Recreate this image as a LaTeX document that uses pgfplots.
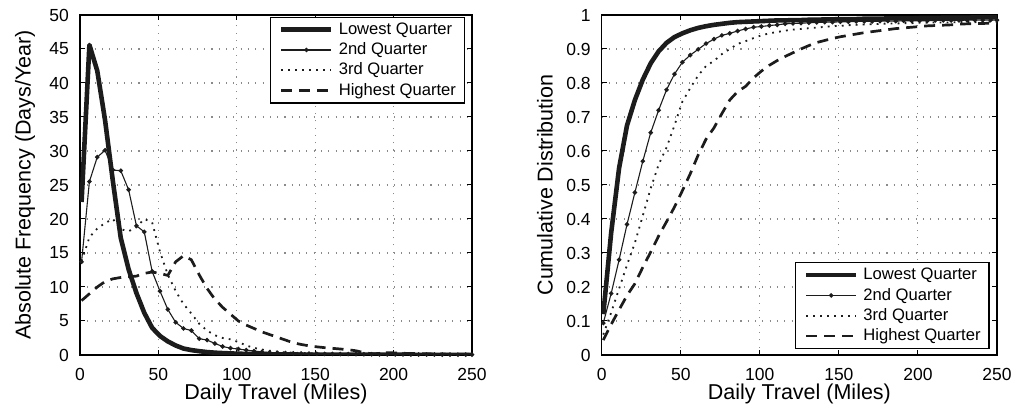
\documentclass[border=0pt]{standalone}
\usepackage{pgfplots}
\usepackage{pgfplotstable}
\usepackage{fontspec}
\setmainfont{Liberation Sans}
\pgfplotsset{compat=1.18}
\definecolor{ln}{HTML}{1C1C1C}
\definecolor{gr}{HTML}{8A8A8A}
\pgfplotstableread{
x L S T H LC SC TC HC
1 22.5 13.7 13.8 8.0 0.12 0.094 0.06 0.044
6 45.6 25.5 17.3 9.0 0.36 0.181 0.125 0.09
11 41.8 29.1 18.6 10.0 0.55 0.28 0.195 0.133
16 34.5 30.1 19.4 10.8 0.675 0.384 0.265 0.175
21 25.5 27.2 20.0 11.2 0.75 0.478 0.33 0.21
26 17.2 27.1 18.5 11.4 0.81 0.57 0.41 0.258
31 12.6 24.3 18.2 11.5 0.858 0.654 0.49 0.303
36 9.1 19.0 18.8 11.6 0.893 0.72 0.56 0.35
41 6.2 18.1 20.0 12.0 0.918 0.78 0.61 0.392
46 4.0 12.3 19.5 12.2 0.935 0.826 0.675 0.435
51 2.8 9.4 15.2 12.0 0.946 0.861 0.745 0.483
56 2.0 6.7 11.8 11.7 0.955 0.882 0.785 0.533
61 1.4 4.8 9.4 13.7 0.962 0.899 0.822 0.588
66 0.95 3.9 7.5 14.6 0.967 0.916 0.85 0.635
71 0.72 3.6 6.1 14.0 0.971 0.929 0.865 0.668
76 0.56 2.4 4.6 11.8 0.974 0.94 0.885 0.71
81 0.43 2.2 3.6 9.8 0.977 0.946 0.9 0.75
86 0.34 1.7 2.9 8.2 0.979 0.953 0.915 0.775
91 0.28 1.25 2.5 7.0 0.98 0.959 0.923 0.79
96 0.23 1.0 2.3 6.0 0.981 0.964 0.932 0.815
101 0.19 0.87 1.9 5.0 0.982 0.966 0.94 0.835
106 0.16 0.72 1.4 4.4 0.983 0.969 0.946 0.852
111 0.13 0.58 1.05 3.9 0.984 0.971 0.95 0.866
116 0.11 0.45 0.8 3.4 0.984 0.974 0.954 0.878
121 0.1 0.37 0.62 3.0 0.985 0.975 0.957 0.889
126 0.09 0.32 0.48 2.6 0.985 0.976 0.959 0.9
131 0.08 0.28 0.39 2.2 0.986 0.977 0.961 0.91
136 0.07 0.25 0.33 1.8 0.986 0.978 0.963 0.919
141 0.06 0.22 0.29 1.55 0.987 0.979 0.965 0.925
146 0.06 0.2 0.26 1.35 0.987 0.979 0.967 0.931
151 0.05 0.18 0.23 1.2 0.988 0.98 0.968 0.936
156 0.05 0.16 0.21 1.08 0.988 0.98 0.97 0.94
161 0.05 0.15 0.19 0.98 0.988 0.981 0.971 0.944
166 0.04 0.14 0.17 0.88 0.989 0.981 0.972 0.948
171 0.04 0.13 0.16 0.78 0.989 0.981 0.973 0.951
176 0.04 0.12 0.15 0.62 0.989 0.982 0.974 0.954
181 0.04 0.11 0.14 0.35 0.99 0.982 0.975 0.957
186 0.03 0.1 0.13 0.18 0.99 0.982 0.975 0.96
191 0.03 0.1 0.12 0.22 0.99 0.983 0.976 0.962
196 0.03 0.09 0.11 0.35 0.99 0.983 0.976 0.964
201 0.03 0.09 0.1 0.3 0.991 0.983 0.977 0.966
206 0.03 0.08 0.1 0.25 0.991 0.983 0.977 0.968
211 0.03 0.08 0.09 0.22 0.991 0.984 0.978 0.969
216 0.02 0.07 0.09 0.2 0.992 0.984 0.978 0.97
221 0.02 0.07 0.08 0.18 0.992 0.984 0.978 0.971
226 0.02 0.07 0.08 0.16 0.992 0.984 0.979 0.973
231 0.02 0.06 0.07 0.14 0.992 0.985 0.979 0.974
236 0.02 0.06 0.07 0.12 0.993 0.985 0.979 0.975
241 0.02 0.05 0.06 0.11 0.993 0.985 0.98 0.975
246 0.02 0.05 0.06 0.1 0.993 0.985 0.98 0.976
250 0.02 0.05 0.05 0.1 0.993 0.985 0.98 0.976
}\data
\pgfplotsset{
  common/.style={
    scale only axis,
    height=170pt,
    xmin=0, xmax=250,
    xtick={0,50,...,250},
    axis line style={line width=0.75pt, black},
    tick align=inside,
    xtick pos=both, ytick pos=both,
    major tick length=2.5pt,
    tick style={line width=0.5pt, black},
    grid=major,
    major grid style={gr, line width=0.55pt, dash pattern=on 0.55pt off 3.1pt},
    /pgf/number format/assume math mode=true,
    ticklabel style={font=\fontsize{8.75}{10}\selectfont},
    xticklabel style={yshift=-3.3pt},
    yticklabel style={xshift=-2pt},
    label style={font=\fontsize{10.75}{12}\selectfont},
    xlabel style={at={(axis description cs:0.5,0)}, anchor=center, yshift=-19.5pt},
    xlabel={Daily Travel (Miles)},
    legend cell align=left,
    legend image code/.code={\draw[mark repeat=2,mark phase=2,##1] plot coordinates {(0pt,0pt) (12.5pt,0pt) (25pt,0pt)};},
    legend style={draw=black, line width=0.6pt, fill=white, inner xsep=4.2pt, inner ysep=2.3pt,
      font=\fontsize{8.3}{9.8}\selectfont, row sep=2.35pt, column sep=2.5pt,
      nodes={inner sep=0pt, text height=6.2pt, text depth=1.6pt}},
  },
  lowq/.style={ln, line width=2.3pt, line join=round, no markers},
  secq/.style={ln, line width=0.55pt, mark=*, mark size=0.85pt, mark options={solid, fill=ln}},
  thrq/.style={ln, line width=0.9pt, dash pattern=on 0.9pt off 2.6pt, no markers},
  higq/.style={ln, line width=1.35pt, dash pattern=on 5.5pt off 3.5pt, no markers},
}
\begin{document}
\begin{tikzpicture}
\path[use as bounding box] (0,0) rectangle (508pt,207.5pt);
\begin{axis}[common,
  at={(40pt,30pt)}, anchor=south west,
  width=196pt,
  ymin=0, ymax=50, ytick={0,5,...,50},
  ylabel={Absolute Frequency (Days/Year)},
  ylabel style={at={(axis description cs:-0.1403,0.5)}, anchor=center},
  legend style={at={(axis description cs:0.982,0.995)}, anchor=north east},
]
\addplot[lowq] table[x=x,y=L] {\data};
\addplot[secq] table[x=x,y=S] {\data};
\addplot[thrq] table[x=x,y=T] {\data};
\addplot[higq] table[x=x,y=H] {\data};
\legend{Lowest Quarter,2nd Quarter,3rd Quarter,Highest Quarter}
\end{axis}
\begin{axis}[common,
  at={(300.85pt,30pt)}, anchor=south west,
  width=197.65pt,
  ymin=0, ymax=1, ytick={0,0.1,...,1.01},
  yticklabel style={/pgf/number format/fixed, /pgf/number format/precision=1},
  ylabel={Cumulative Distribution},
  ylabel style={at={(axis description cs:-0.1435,0.5)}, anchor=center},
  legend style={at={(axis description cs:0.9813,0.0176)}, anchor=south east},
]
\addplot[lowq] table[x=x,y=LC] {\data};
\addplot[secq] table[x=x,y=SC] {\data};
\addplot[thrq] table[x=x,y=TC] {\data};
\addplot[higq] table[x=x,y=HC] {\data};
\legend{Lowest Quarter,2nd Quarter,3rd Quarter,Highest Quarter}
\end{axis}
\end{tikzpicture}
\end{document}
